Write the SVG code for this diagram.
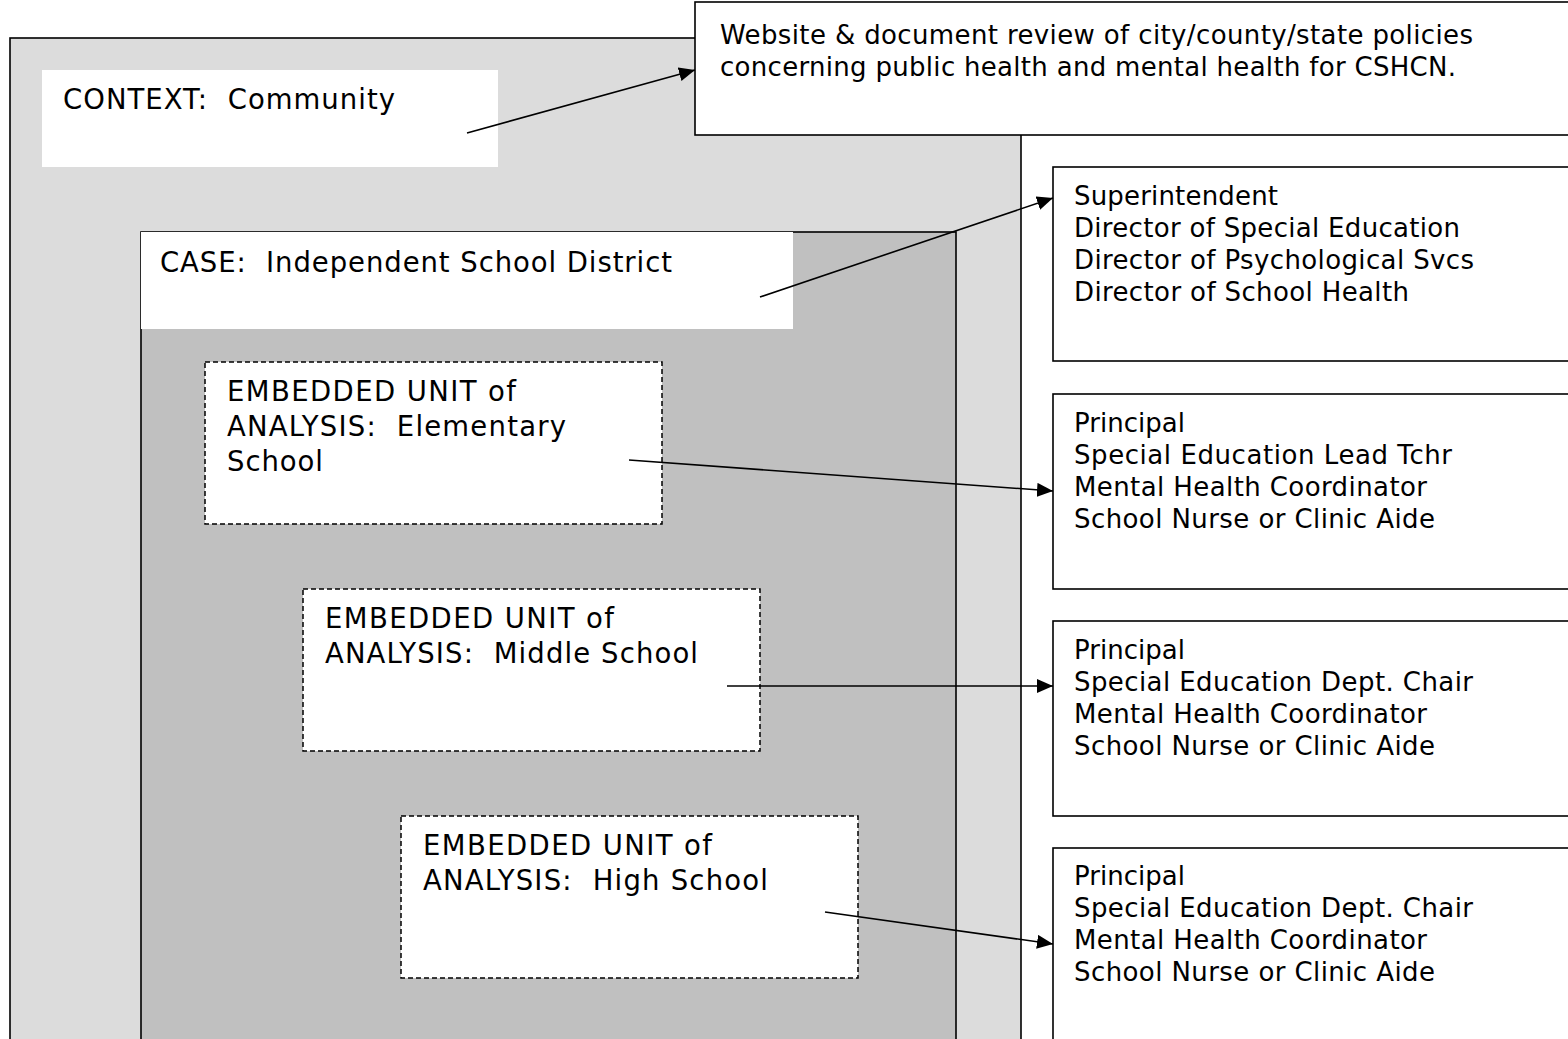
<svg xmlns="http://www.w3.org/2000/svg" width="1568" height="1039" viewBox="0 0 1568 1039">
<style>
.t{font-family:"DejaVu Sans","Verdana",sans-serif;fill:#000}
.l{font-size:27.5px}
.r{font-size:26px}
.box{fill:#fff;stroke:#000;stroke-width:1.6}
.dash{fill:#fff;stroke:#000;stroke-width:1.5;stroke-dasharray:5 3}
.conn{stroke:#000;stroke-width:1.6;fill:none;marker-end:url(#ah)}
</style>
<defs>
<marker id="ah" markerWidth="16" markerHeight="14" refX="16" refY="7" orient="auto" markerUnits="userSpaceOnUse">
<path d="M0,0 L16,7 L0,14 Z" fill="#000"/>
</marker>
</defs>
<rect x="0" y="0" width="1568" height="1039" fill="#fff"/>
<g id="context">
<rect x="10" y="38" width="1011" height="1020" fill="#dcdcdc" stroke="#000" stroke-width="1.6"/>
<rect x="42" y="70" width="456" height="97" fill="#fff"/>
<text class="t l" x="63" y="109" textLength="332" xml:space="preserve">CONTEXT:  Community</text>
</g>
<g id="website">
<rect class="box" x="695" y="2" width="890" height="133"/>
<text class="t r" x="720" y="44" textLength="753">Website &amp; document review of city/county/state policies</text>
<text class="t r" x="720" y="76" textLength="736">concerning public health and mental health for CSHCN.</text>
</g>
<g id="case">
<rect x="141" y="232" width="815" height="830" fill="#c0c0c0" stroke="#000" stroke-width="1.6"/>
<rect x="141" y="232" width="652" height="97" fill="#fff"/>
<text class="t l" x="160" y="272" textLength="512" xml:space="preserve">CASE:  Independent School District</text>
</g>
<g id="elementary">
<rect class="dash" x="205" y="362" width="457" height="162"/>
<text class="t l" x="227" y="401" textLength="289">EMBEDDED UNIT of</text>
<text class="t l" x="227" y="436" textLength="339" xml:space="preserve">ANALYSIS:  Elementary</text>
<text class="t l" x="227" y="471" textLength="96">School</text>
</g>
<g id="middle">
<rect class="dash" x="303" y="589" width="457" height="162"/>
<text class="t l" x="325" y="628" textLength="289">EMBEDDED UNIT of</text>
<text class="t l" x="325" y="663" textLength="373" xml:space="preserve">ANALYSIS:  Middle School</text>
</g>
<g id="high">
<rect class="dash" x="401" y="816" width="457" height="162"/>
<text class="t l" x="423" y="855" textLength="289">EMBEDDED UNIT of</text>
<text class="t l" x="423" y="890" textLength="345" xml:space="preserve">ANALYSIS:  High School</text>
</g>
<g id="district-staff">
<rect class="box" x="1053" y="167" width="530" height="194"/>
<text class="t r" x="1074" y="205" textLength="204">Superintendent</text>
<text class="t r" x="1074" y="237" textLength="386">Director of Special Education</text>
<text class="t r" x="1074" y="269" textLength="400">Director of Psychological Svcs</text>
<text class="t r" x="1074" y="301" textLength="335">Director of School Health</text>
</g>
<g id="elementary-staff">
<rect class="box" x="1053" y="394" width="530" height="195"/>
<text class="t r" x="1074" y="432" textLength="111">Principal</text>
<text class="t r" x="1074" y="464" textLength="378">Special Education Lead Tchr</text>
<text class="t r" x="1074" y="496" textLength="353">Mental Health Coordinator</text>
<text class="t r" x="1074" y="528" textLength="361">School Nurse or Clinic Aide</text>
</g>
<g id="middle-staff">
<rect class="box" x="1053" y="621" width="530" height="195"/>
<text class="t r" x="1074" y="659" textLength="111">Principal</text>
<text class="t r" x="1074" y="691" textLength="399">Special Education Dept. Chair</text>
<text class="t r" x="1074" y="723" textLength="353">Mental Health Coordinator</text>
<text class="t r" x="1074" y="755" textLength="361">School Nurse or Clinic Aide</text>
</g>
<g id="high-staff">
<rect class="box" x="1053" y="848" width="530" height="220"/>
<text class="t r" x="1074" y="885" textLength="111">Principal</text>
<text class="t r" x="1074" y="917" textLength="399">Special Education Dept. Chair</text>
<text class="t r" x="1074" y="949" textLength="353">Mental Health Coordinator</text>
<text class="t r" x="1074" y="981" textLength="361">School Nurse or Clinic Aide</text>
</g>
<g id="connectors">
<line class="conn" x1="467" y1="133" x2="695" y2="70"/>
<line class="conn" x1="760" y1="297" x2="1053" y2="198"/>
<line class="conn" x1="629" y1="460" x2="1053" y2="491"/>
<line class="conn" x1="727" y1="686" x2="1053" y2="686"/>
<line class="conn" x1="825" y1="912" x2="1053" y2="944"/>
</g>
</svg>
